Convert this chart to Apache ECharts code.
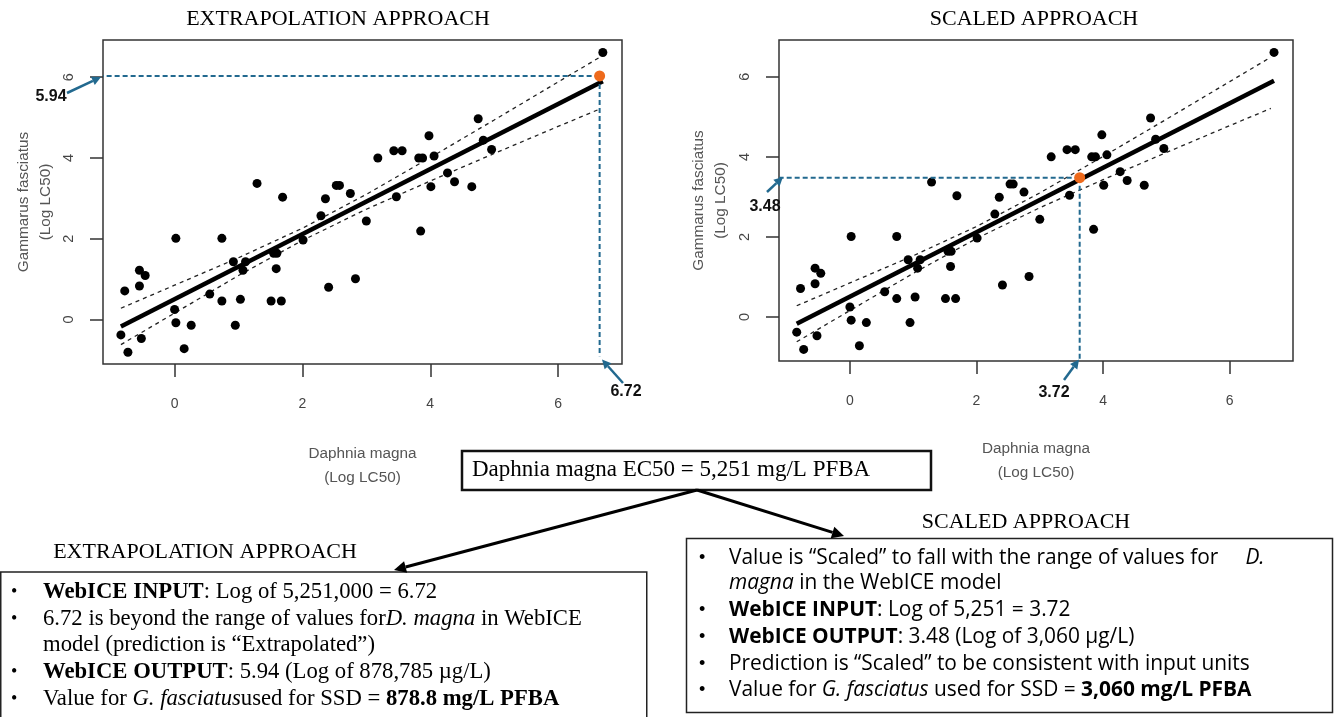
<!DOCTYPE html>
<html><head><meta charset="utf-8">
<script src="https://cdn.jsdelivr.net/npm/echarts@6/dist/echarts.min.js"></script>
<style>html,body{margin:0;padding:0;background:#fff}#c{width:1338px;height:717px}</style>
</head><body><div id="c"></div>
<script>
// Observed data: Daphnia magna (x) vs Gammarus fasciatus (y), log LC50
const dmX = [6.70,4.75,4.96,4.83,3.98,4.06,3.82,3.88,3.43,3.56,3.18,4.27,4.38,4.01,4.65,3.47,3.85,3.00,2.83,2.41,1.29,1.69,2.36,2.53,2.58,2.75,2.29,2.01,0.02,0.74,1.55,1.60,1.59,1.51,1.67,1.03,0.74,0.92,1.11,1.07,0.55,0.95,0.26,0.02,0.00,0.15,-0.55,-0.46,-0.55,-0.78,-0.84,-0.73,-0.52];
const gfY = [6.61,4.97,4.21,4.44,4.55,4.05,4.00,4.00,4.18,4.18,4.00,3.63,3.41,3.29,3.29,3.04,2.19,2.44,1.01,0.80,3.37,3.03,2.99,3.32,3.32,3.12,2.57,1.97,2.01,2.01,1.64,1.64,1.26,0.46,0.46,0.50,0.46,1.43,1.43,1.22,0.63,-0.14,-0.14,-0.08,0.25,-0.72,1.22,1.09,0.83,0.71,-0.38,-0.81,-0.47];
// Regression line (read endpoints)
const fitX = [-0.84, 6.70];
const fitY = [-0.17, 5.90];
// Confidence band (read)
const bandX = [-0.84, 0, 1, 2, 3, 4, 5, 6, 6.65];
const bandUpper = [0.28, 0.85, 1.53, 2.26, 3.10, 4.01, 4.94, 5.88, 6.49];
const bandLower = [-0.62, 0.16, 1.09, 1.96, 2.73, 3.43, 4.11, 4.78, 5.21];
// Predicted points (as drawn) and their labels
const extrapPoint = [6.65, 6.03];
const scaledPoint = [3.63, 3.48];
const extrapLabels = ['5.94', '6.72'];
const scaledLabels = ['3.48', '3.72'];
const tickValues = [0, 2, 4, 6];
const axisMin = {x: -1.12, y: -1.1};
const axisMax = {x: 7.0, y: 6.92};

const BLUE = '#22698F';
const ORANGE = '#EE6A1C';
const pts = dmX.map((x, i) => [x, gfY[i]]);
const fit = fitX.map((x, i) => [x, fitY[i]]);
const up = bandX.map((x, i) => [x, bandUpper[i]]);
const lo = bandX.map((x, i) => [x, bandLower[i]]);

function mkX(i, nameGap) {
  return {
    gridIndex: i, type: 'value', min: axisMin.x, max: axisMax.x,
    axisLine: {show: false, onZero: false}, splitLine: {show: false},
    axisTick: {show: true, length: 13, inside: false, customValues: tickValues, lineStyle: {color: '#333', width: 1.5}},
    axisLabel: {customValues: tickValues, margin: 33, color: '#444', fontSize: 14, fontFamily: 'Liberation Sans'},
    name: 'Daphnia magna\n(Log LC50)', nameLocation: 'middle', nameGap: nameGap,
    nameTextStyle: {color: '#555', fontSize: 15.3, fontFamily: 'Liberation Sans', lineHeight: 24}
  };
}
function mkY(i, nameGap) {
  return {
    gridIndex: i, type: 'value', min: axisMin.y, max: axisMax.y,
    axisLine: {show: false, onZero: false}, splitLine: {show: false},
    axisTick: {show: true, length: 13, inside: false, customValues: tickValues, lineStyle: {color: '#333', width: 1.5}},
    axisLabel: {customValues: tickValues, margin: 27, rotate: 90, color: '#444', fontSize: 14.5, fontFamily: 'Liberation Sans'},
    name: 'Gammarus fasciatus\n(Log LC50)', nameLocation: 'middle', nameGap: nameGap, nameRotate: 90,
    nameTextStyle: {color: '#555', fontSize: 15.3, fontFamily: 'Liberation Sans', lineHeight: 22}
  };
}
function plotSeries(i, pred) {
  const base = {xAxisIndex: i, yAxisIndex: i, animation: false, silent: true};
  return [
    Object.assign({type: 'line', data: up, showSymbol: false, symbol: 'none', lineStyle: {color: '#222', width: 1.3, type: [4, 4]}, z: 2}, base),
    Object.assign({type: 'line', data: lo, showSymbol: false, symbol: 'none', lineStyle: {color: '#222', width: 1.3, type: [4, 4]}, z: 2}, base),
    Object.assign({type: 'line', data: fit, showSymbol: false, symbol: 'none', lineStyle: {color: '#000', width: 4.5}, z: 3}, base),
    Object.assign({type: 'scatter', data: pts, symbolSize: 9, itemStyle: {color: '#000', opacity: 1}, z: 4}, base),
    Object.assign({type: 'line', data: [[pred[0], pred[1]], [axisMin.x, pred[1]]], clip: false, symbol: 'none', lineStyle: {color: BLUE, width: 2, type: [5, 3]}, z: 5}, base),
    Object.assign({type: 'line', data: [[pred[0], pred[1]], [pred[0], i === 0 ? -0.91 : -1.06]], clip: false, symbol: 'none', lineStyle: {color: BLUE, width: 2, type: [5, 3]}, z: 5}, base),
    Object.assign({type: 'scatter', data: [pred], symbolSize: 11, itemStyle: {color: ORANGE, opacity: 1}, z: 6}, base)
  ];
}

function arrow(x1, y1, x2, y2, color, w, hl) {
  const a = Math.atan2(y2 - y1, x2 - x1);
  const bx = x2 - hl * Math.cos(a), by = y2 - hl * Math.sin(a);
  const hw = hl * 0.5;
  return [
    {type: 'line', shape: {x1: x1, y1: y1, x2: bx, y2: by}, style: {stroke: color, lineWidth: w}, z: 100},
    {type: 'polygon', shape: {points: [[x2, y2], [bx + hw * Math.sin(a), by - hw * Math.cos(a)], [bx - hw * Math.sin(a), by + hw * Math.cos(a)]]}, style: {fill: color}, z: 100}
  ];
}
function txt(x, y, text, opts) {
  return {type: 'text', z: 101, style: Object.assign({x: x, y: y, text: text, align: 'left', verticalAlign: 'middle', fill: '#000'}, opts || {})};
}
const serif = 'Liberation Serif';
const sans = 'Liberation Sans';
const rsans = 'Open Sans';
const LFS = 22.7, RFS = 20.9;
const leftRich = {b: {fontWeight: 'bold', fontFamily: serif, fontSize: LFS}, i: {fontStyle: 'italic', fontFamily: serif, fontSize: LFS}};
const rightRich = {b: {fontWeight: 'bold', fontFamily: rsans, fontSize: RFS}, i: {fontStyle: 'italic', fontFamily: rsans, fontSize: RFS}};
const lt = (y, s) => txt(43, y, s, {fontFamily: serif, fontSize: LFS, rich: leftRich});
const rt = (y, s) => txt(729, y, s, {fontFamily: rsans, fontSize: RFS, rich: rightRich});
const lb = (y) => txt(11, y, '•', {fontFamily: serif, fontSize: 18});
const rb = (y) => txt(699, y, '•', {fontFamily: sans, fontSize: 18});

const graphics = [].concat(
  [txt(338, 19, 'EXTRAPOLATION APPROACH', {fontFamily: serif, fontSize: 22, align: 'center'}),
   txt(1034, 19, 'SCALED APPROACH', {fontFamily: serif, fontSize: 22, align: 'center'}),
   txt(51, 97, extrapLabels[0], {fontFamily: sans, fontSize: 16, fontWeight: 'bold', align: 'center', fill: '#111'}),
   txt(626, 392, extrapLabels[1], {fontFamily: sans, fontSize: 16, fontWeight: 'bold', align: 'center', fill: '#111'}),
   txt(765, 207, scaledLabels[0], {fontFamily: sans, fontSize: 16, fontWeight: 'bold', align: 'center', fill: '#111'}),
   txt(1054, 393, scaledLabels[1], {fontFamily: sans, fontSize: 16, fontWeight: 'bold', align: 'center', fill: '#111'})],
  arrow(67, 93, 101, 77, BLUE, 2.5, 9),
  arrow(623, 383, 602, 359.5, BLUE, 2.5, 9),
  arrow(767, 192, 783, 177, BLUE, 2.5, 9),
  arrow(1064, 380, 1079, 359.5, BLUE, 2.5, 9),
  [{type: 'rect', z: 99, shape: {x: 462, y: 451, width: 469, height: 39}, style: {fill: '#fff', stroke: '#111', lineWidth: 2.5}},
   txt(472, 470, 'Daphnia magna EC50 = 5,251 mg/L PFBA', {fontFamily: serif, fontSize: 23})],
  arrow(697, 490, 394, 570, '#000', 3, 12),
  arrow(697, 490, 844, 536, '#000', 3, 12),
  [txt(205, 552, 'EXTRAPOLATION APPROACH', {fontFamily: serif, fontSize: 22, align: 'center'}),
   txt(1026, 522, 'SCALED APPROACH', {fontFamily: serif, fontSize: 22, align: 'center'}),
   {type: 'rect', z: 98, shape: {x: 0.75, y: 572, width: 646, height: 160}, style: {fill: '#fff', stroke: '#222', lineWidth: 1.5}},
   {type: 'rect', z: 98, shape: {x: 686.5, y: 538.5, width: 646, height: 174}, style: {fill: '#fff', stroke: '#222', lineWidth: 1.5}},
   lb(592), lt(592, '{b|WebICE INPUT}: Log of 5,251,000 = 6.72'),
   lb(619), lt(619, '6.72 is beyond the range of values for{i|D. magna} in WebICE'),
   lt(645, 'model (prediction is “Extrapolated”)'),
   lb(672), lt(672, '{b|WebICE OUTPUT}: 5.94 (Log of 878,785 µg/L)'),
   lb(699), lt(699, 'Value for {i|G. fasciatus}used for SSD = {b|878.8 mg/L PFBA}'),
   rb(558), rt(558, 'Value is “Scaled” to fall with the range of values for     {i|D.}'),
   rt(583, '{i|magna} in the WebICE model'),
   rb(610), rt(610, '{b|WebICE INPUT}: Log of 5,251 = 3.72'),
   rb(637), rt(637, '{b|WebICE OUTPUT}: 3.48 (Log of 3,060 µg/L)'),
   rb(664), rt(664, 'Prediction is “Scaled” to be consistent with input units'),
   rb(690), rt(690, 'Value for {i|G. fasciatus} used for SSD = {b|3,060 mg/L PFBA}')]
);

const chart = echarts.init(document.getElementById('c'), null, {renderer: 'canvas'});
chart.setOption({
  animation: false,
  backgroundColor: '#fff',
  grid: [
    {left: 103, top: 40, width: 519, height: 324, show: true, borderColor: '#333', borderWidth: 1.5, backgroundColor: 'transparent'},
    {left: 779, top: 40, width: 514, height: 321, show: true, borderColor: '#333', borderWidth: 1.5, backgroundColor: 'transparent'}
  ],
  xAxis: [mkX(0, 78), mkX(1, 76)],
  yAxis: [mkY(0, 46), mkY(1, 47)],
  series: plotSeries(0, extrapPoint).concat(plotSeries(1, scaledPoint)),
  graphic: graphics
});
</script></body></html>
